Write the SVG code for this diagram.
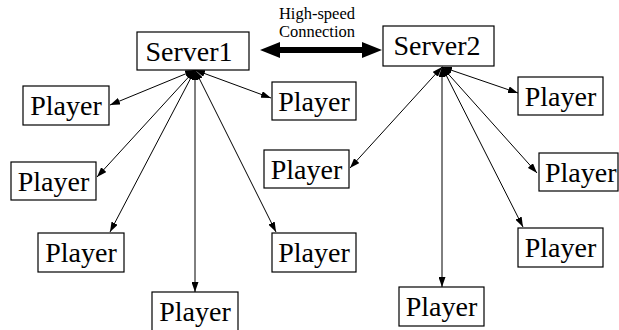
<svg xmlns="http://www.w3.org/2000/svg" width="619" height="330" viewBox="0 0 619 330" font-family="'Liberation Serif', 'Times New Roman', Times, serif">
  <style>
    .box { fill: #fff; stroke: #000; stroke-width: 1.2; }
    text { font-family: 'Liberation Serif', 'Times New Roman', Times, serif; fill: #000; text-anchor: middle; }
    .lbl { font-size: 28px; }
    .small { font-size: 16.5px; }
    .link { stroke: #000; stroke-width: 1; fill: none; marker-start: url(#head); marker-end: url(#head); }
  </style>
  <defs>
    <marker id="head" viewBox="0 0 10 7" refX="10" refY="3.5" markerWidth="10" markerHeight="7" markerUnits="userSpaceOnUse" orient="auto-start-reverse">
      <path d="M0,0 L10,3.5 L0,7 Z" fill="#000"/>
    </marker>
  </defs>
  <rect width="619" height="330" fill="#fff"/>

  <!-- server-to-server link -->
  <g id="backbone">
    <path d="M260,50 L280,42 L280,47 L362,47 L362,42 L382,50 L362,58 L362,53 L280,53 L280,58 Z" fill="#000"/>
    <text class="small" x="317" y="18.5">High-speed</text>
    <text class="small" x="317" y="36.5">Connection</text>
  </g>

  <!-- connectors from each server to its players -->
  <g id="connectors">
    <line class="link" x1="195" y1="70" x2="110" y2="105"/>
    <line class="link" x1="195" y1="70" x2="97" y2="177"/>
    <line class="link" x1="195" y1="70" x2="110" y2="232"/>
    <line class="link" x1="195" y1="70" x2="195" y2="292"/>
    <line class="link" x1="195" y1="70" x2="271" y2="98"/>
    <line class="link" x1="195" y1="70" x2="276" y2="232"/>
    <line class="link" x1="442" y1="67" x2="350" y2="168"/>
    <line class="link" x1="442" y1="67" x2="442" y2="287"/>
    <line class="link" x1="442" y1="67" x2="518" y2="93"/>
    <line class="link" x1="442" y1="67" x2="537" y2="173"/>
    <line class="link" x1="442" y1="67" x2="523" y2="227"/>
  </g>

  <!-- servers -->
  <g id="server1">
    <rect class="box" x="137" y="32" width="112" height="38"/>
    <text class="lbl" x="189" y="61">Server1</text>
  </g>
  <g id="server2">
    <rect class="box" x="383" y="26" width="111" height="40"/>
    <text class="lbl" x="437" y="55">Server2</text>
  </g>

  <!-- players of Server1 -->
  <g id="player1">
    <rect class="box" x="23" y="86" width="86" height="39"/>
    <text class="lbl" x="66" y="115">Player</text>
  </g>
  <g id="player2">
    <rect class="box" x="11" y="162" width="85" height="38"/>
    <text class="lbl" x="53.5" y="191">Player</text>
  </g>
  <g id="player3">
    <rect class="box" x="38" y="233" width="86" height="39"/>
    <text class="lbl" x="81" y="262">Player</text>
  </g>
  <g id="player4">
    <rect class="box" x="152" y="292" width="86" height="39"/>
    <text class="lbl" x="195" y="321">Player</text>
  </g>
  <g id="player5">
    <rect class="box" x="272" y="82" width="84" height="38"/>
    <text class="lbl" x="314" y="111">Player</text>
  </g>
  <g id="player6">
    <rect class="box" x="272" y="233" width="84" height="39"/>
    <text class="lbl" x="314" y="262">Player</text>
  </g>

  <!-- players of Server2 -->
  <g id="player7">
    <rect class="box" x="264" y="150" width="85" height="38"/>
    <text class="lbl" x="306.5" y="179">Player</text>
  </g>
  <g id="player8">
    <rect class="box" x="399" y="287" width="85" height="39"/>
    <text class="lbl" x="441.5" y="316">Player</text>
  </g>
  <g id="player9">
    <rect class="box" x="518" y="77" width="85" height="38"/>
    <text class="lbl" x="560.5" y="106">Player</text>
  </g>
  <g id="player10">
    <rect class="box" x="539" y="153" width="79" height="38"/>
    <text class="lbl" x="545" y="182" style="text-anchor:start">Player</text>
  </g>
  <g id="player11">
    <rect class="box" x="518" y="228" width="85" height="39"/>
    <text class="lbl" x="560.5" y="257">Player</text>
  </g>
</svg>
